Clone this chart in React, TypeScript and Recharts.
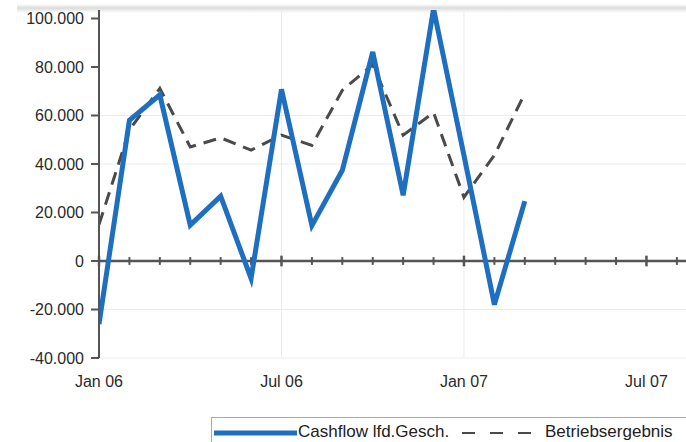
import React from "react";
import { LineChart, Line, XAxis, YAxis, CartesianGrid, ReferenceLine } from "recharts";

const months = ["Jan 06","Feb 06","Mar 06","Apr 06","May 06","Jun 06","Jul 06","Aug 06","Sep 06","Oct 06","Nov 06","Dec 06","Jan 07","Feb 07","Mar 07"];
const cashflow = [-26000, 58000, 68500, 14800, 26700, -7200, 70800, 14600, 37400, 86200, 27100, 104000, 43500, -18000, 24700];
const betriebsergebnis = [15000, 54000, 71200, 47000, 50800, 45700, 51900, 47700, 70400, 81000, 51900, 61200, 26300, 43600, 69100];
const xTickLabels = ["Jan 06", "Jul 06", "Jan 07", "Jul 07"];
const xTickValues = [0, 6, 12, 18];
const yTicks = [-40000, -20000, 0, 20000, 40000, 60000, 80000, 100000];
const axisMonths = Array.from({ length: 20 }, (_, i) => i);

const data = months.map((m, i) => ({ m: i, label: m, cash: cashflow[i], betr: betriebsergebnis[i] }));

const fmt = (v: number) => {
  const s = Math.abs(v).toString();
  const withDots = s.replace(/\B(?=(\d{3})+(?!\d))/g, ".");
  return (v < 0 ? "-" : "") + withDots;
};

const FONT = "'Liberation Sans', Arial, Helvetica, sans-serif";
const BLUE = "#1f6fc0";
const AXIS = "#555";
const DASH = "#4a4a4a";

export default function App() {
  return (
    <div style={{ position: "absolute", left: 0, top: 0, width: 686, height: 442, overflow: "hidden", background: "#fff", fontFamily: FONT }}>
      <div style={{ position: "absolute", left: 17, top: 4, width: 669, height: 9, background: "linear-gradient(#ffffff, #dcdcdc 45%, #ffffff)" }} />
      <LineChart width={686} height={442} data={data} margin={{ top: 10, right: 0, left: 0, bottom: 0 }}>
        <CartesianGrid stroke="#ebebeb" strokeWidth={1} horizontalValues={[60000, 40000, -20000, -40000]} verticalValues={[6, 12]} />
        <XAxis
          type="number"
          dataKey="m"
          domain={[0, 19.3]}
          allowDataOverflow
          ticks={xTickValues}
          tickFormatter={(v: number) => xTickLabels[xTickValues.indexOf(v)] ?? ""}
          axisLine={false}
          tickLine={{ stroke: "none" }}
          tickSize={8}
          tickMargin={10}
          height={84}
          interval={0}
          tick={{ fill: "#2a2a2a", fontSize: 16, fontFamily: FONT }}
        />
        <YAxis
          type="number"
          domain={[-40000, 103500]}
          allowDataOverflow
          ticks={yTicks}
          tickFormatter={fmt}
          width={99}
          axisLine={{ stroke: AXIS, strokeWidth: 2 }}
          tickLine={{ stroke: AXIS, strokeWidth: 2 }}
          tickSize={8}
          tickMargin={7}
          interval={0}
          tick={{ fill: "#2a2a2a", fontSize: 16, fontFamily: FONT }}
        />
        <ReferenceLine y={0} stroke={AXIS} strokeWidth={2.5} />
        {axisMonths.map((i) => (
          <ReferenceLine
            key={i}
            segment={[{ x: i, y: i % 6 === 0 ? -2200 : -1600 }, { x: i, y: i % 6 === 0 ? 2200 : 1600 }]}
            stroke={AXIS}
            strokeWidth={i % 6 === 0 ? 2.5 : 2}
          />
        ))}
        <Line type="linear" dataKey="betr" stroke={DASH} strokeWidth={3} strokeDasharray="13 8" dot={false} isAnimationActive={false} />
        <Line type="linear" dataKey="cash" stroke={BLUE} strokeWidth={5} dot={false} isAnimationActive={false} />
      </LineChart>
      <div style={{ position: "absolute", left: 211, top: 417, width: 490, height: 40, border: "1px solid #a8a8a8", background: "#fff" }}>
        <svg width={490} height={30} style={{ position: "absolute", left: 0, top: 0 }}>
          <line x1={2} y1={15} x2={85} y2={15} stroke={BLUE} strokeWidth={5} />
          <line x1={250} y1={15} x2={322} y2={15} stroke={DASH} strokeWidth={2} strokeDasharray="13 15" />
        </svg>
        <span style={{ position: "absolute", left: 86, top: 4, fontSize: 17, color: "#222", whiteSpace: "nowrap", lineHeight: "20px" }}>Cashflow lfd.Gesch.</span>
        <span style={{ position: "absolute", left: 333, top: 4, fontSize: 17, color: "#222", whiteSpace: "nowrap", lineHeight: "20px" }}>Betriebsergebnis</span>
      </div>
    </div>
  );
}
